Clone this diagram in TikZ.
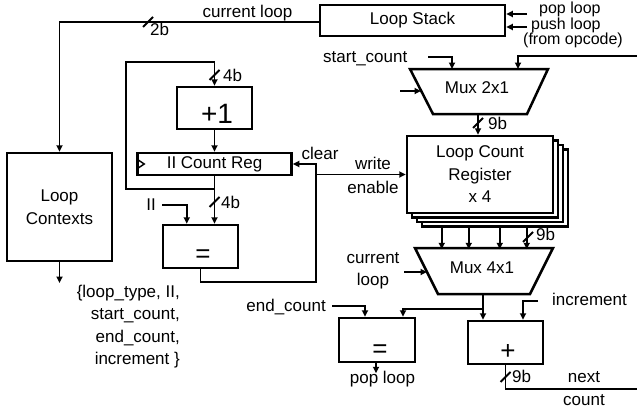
\documentclass[tikz,border=0pt]{standalone}
\usepackage{fontspec}
\setmainfont{Liberation Sans}
\usetikzlibrary{arrows.meta,calc}
\tikzset{
  txt/.style={font=\fontsize{17}{22.5}\selectfont},
  box/.style={draw, line width=2.5pt, fill=white, inner sep=0pt, txt, align=center},
  wire/.style={line width=1.8pt},
  arr/.style={wire, -{Triangle[length=6.5pt,width=6pt]}},
  lbl/.style={inner sep=0pt, txt},
  smalllbl/.style={inner sep=0pt, font=\fontsize{16}{18}\selectfont},
  bigsym/.style={font=\fontsize{26}{28}\selectfont, text depth=0pt},
}
\newcommand\busslash[1]{\draw[wire] ($(#1)+(-5,5)$) -- ($(#1)+(5,-5)$);}
\begin{document}
\begin{tikzpicture}[x=1pt,y=-1pt]
\useasboundingbox (0,0) rectangle (637,415);

% ---------- Loop Stack ----------
\node[box, minimum width=185pt, minimum height=31pt] (ls) at (412.5,20.5) {Loop Stack};
\coordinate (popin) at (527,14);
\coordinate (pushin) at (527,27);
\draw[arr] (popin) -- (popin -| ls.east);
\draw[arr] (pushin) -- (pushin -| ls.east);
\node[smalllbl, anchor=base west] (tpop) at (539,13.5) {pop loop};
\node[smalllbl, anchor=base west] (tpush) at (531,29) {push loop};
\node[smalllbl, anchor=base west] (topc) at (523,44.5) {(from opcode)};

% ---------- Loop Contexts ----------
\node[box, minimum width=105pt, minimum height=108pt] (lc) at (59.5,207) {Loop\\Contexts};
\coordinate (lsw) at ($(ls.west)+(0,1.5)$);
\draw[arr] (lsw) -| (lc.north);
\coordinate (s2b) at (148,22);
\busslash{s2b}
\node[lbl, anchor=base] (tcur) at (247.5,17) {current loop};
\node[lbl, anchor=base west] (t2b) at (150,35) {2b};
\coordinate (lcout) at (59.5,283);
\draw[arr] (lc.south) -- (lcout);
\node[lbl, anchor=base east] (tf1) at (180,297) {\{loop\_type, II,};
\node[lbl, anchor=base east] (tf2) at (180,319.5) {start\_count,};
\node[lbl, anchor=base east] (tf3) at (180,342) {end\_count,};
\node[lbl, anchor=base east] (tf4) at (180,364.5) {increment \}};

% ---------- +1 / II Count Reg / = ----------
\node[box, minimum width=75pt, minimum height=42pt, font=\fontsize{28}{30}\selectfont, text height=30pt, text depth=0pt] (p1) at (214.5,108) {\hspace*{5pt}+1};
\node[box, minimum width=154pt, minimum height=22pt] (reg) at (214.5,164) {II Count Reg};
\draw[wire, line width=1.5pt] ($(reg.west)+(2,-4)$) -- ($(reg.west)+(8,0)$) -- ($(reg.west)+(2,4)$);
\coordinate (j1) at ($(reg.south)+(0,13)$);
\coordinate (fbtl) at (126,62);
\draw[arr] (j1) -| (fbtl) -| (p1.north);
\coordinate (s4a) at (214.5,75);
\busslash{s4a}
\node[lbl, anchor=base west] (t4a) at (223,81) {4b};
\draw[arr] (p1.south) -- (reg.north);

\node[box, bigsym, minimum width=75pt, minimum height=43pt, text height=31pt] (eq1) at (200.5,246.5) {\hspace*{5pt}=};
\draw[arr] (reg.south) -- (reg.south |- eq1.north);
\coordinate (s4b) at (214.5,202);
\busslash{s4b}
\node[lbl, anchor=base west] (t4b) at (221,208) {4b};
\coordinate (iiin) at (162,205);
\draw[arr] (iiin) -| ($(eq1.north west)+(25,0)$);
\node[lbl, anchor=base east] (tii) at (156,210) {II};

\coordinate (clr) at (316,164);
\draw[arr] (eq1.south) -- ++(0,13) -| (clr) -- (reg.east);
\node[lbl, anchor=base] (tclear) at (320,159) {clear};

% ---------- Loop Count Register x4 ----------
\node[box, minimum width=146pt, minimum height=77pt] (lcr3) at (495,188) {};
\node[box, minimum width=146pt, minimum height=77pt] (lcr2) at (490,183.5) {};
\node[box, minimum width=146pt, minimum height=77pt] (lcr1) at (485,179) {};
\node[box, minimum width=146pt, minimum height=77pt] (lcr) at (480,174.5) {Loop Count\\Register\\x 4};
\draw[arr] (lcr.west -| clr) -- (lcr.west);
\node[lbl, anchor=base] (twrite) at (373,169) {write};
\node[lbl, anchor=base] (tenable) at (373,193) {enable};

% ---------- Mux 2x1 ----------
\coordinate (m2a) at (410,69);
\coordinate (m2b) at (548,69);
\coordinate (m2c) at (527,114);
\coordinate (m2d) at (433,114);
\draw[line width=2.5pt, line join=miter] (m2a) -- (m2b) -- (m2c) -- (m2d) -- cycle;
\node[lbl, anchor=base] (m2) at (477,93) {Mux 2x1};
\node[lbl, anchor=base west] (tsc) at (323,62) {start\_count};
\coordinate (scin) at (428,57);
\coordinate (m2in1) at (452,69);
\draw[arr] (scin) -| (m2in1);
\coordinate (nxin) at (637,56);
\coordinate (m2in2) at (518,69);
\draw[arr] (nxin) -| (m2in2);
\coordinate (m2sel) at (400,91);
\coordinate (m2selend) at (421,91);
\draw[arr] (m2sel) -- (m2selend);
\coordinate (m2out) at (478,114);
\draw[arr] (m2out) -- (m2out |- lcr.north);
\coordinate (s9a) at (478,123);
\busslash{s9a}
\node[lbl, anchor=base west] (t9a) at (488,129) {9b};

% ---------- Mux 4x1 ----------
\coordinate (m4a) at (415,248);
\coordinate (m4b) at (553,248);
\coordinate (m4c) at (530,294);
\coordinate (m4d) at (438,294);
\draw[line width=2.5pt, line join=miter] (m4a) -- (m4b) -- (m4c) -- (m4d) -- cycle;
\node[lbl, anchor=base] (m4) at (482,273) {Mux 4x1};
\foreach \d in {21,48,79,106}
  \draw[arr] ($(lcr3.south west)+(\d,0)$) -- ++(0,21.5);
\coordinate (s9b) at (528,237);
\busslash{s9b}
\node[lbl, anchor=base west] (t9b) at (536,240) {9b};
\node[lbl, anchor=base] (tcl1) at (373,263) {current};
\node[lbl, anchor=base] (tcl2) at (373,285) {loop};
\coordinate (m4sel) at (404,272);
\coordinate (m4selend) at (427,272);
\draw[arr] (m4sel) -- (m4selend);

% ---------- = and + ----------
\node[box, bigsym, minimum width=76pt, minimum height=44pt, text height=34pt] (eq2) at (377,340) {\hspace*{6pt}=};
\node[box, bigsym, minimum width=75pt, minimum height=43pt, text height=33pt] (pl) at (505.5,342.5) {\hspace*{5pt}+};
\coordinate (m4out) at (483,294);
\coordinate (j2) at (483,309);
\draw[arr] (m4out) -- (m4out |- pl.north);
\draw[arr] (j2) -| ($(eq2.north)+(26,0)$);
\coordinate (ecin) at (332,306);
\draw[arr] (ecin) -| ($(eq2.north)+(-12,0)$);
\node[lbl, anchor=base east] (tec) at (326,311) {end\_count};
\coordinate (incin) at (538,301);
\draw[arr] (incin) -| ($(pl.north)+(17.5,0)$);
\node[lbl, anchor=base west] (tinc) at (552,305) {increment};
\coordinate (nc) at (637,389);
\draw[wire] (pl.south) |- (nc);
\coordinate (s9c) at (505.5,377);
\busslash{s9c}
\node[lbl, anchor=base west] (t9c) at (512,382) {9b};
\node[lbl, anchor=base] (tnext) at (584,382) {next};
\node[lbl, anchor=base] (tcount) at (584,405) {count};
\draw[arr] ($(eq2.south)+(-1,0)$) -- ++(0,10);
\node[lbl, anchor=base] (tpl) at (382.5,383) {pop loop};
\end{tikzpicture}
\end{document}
